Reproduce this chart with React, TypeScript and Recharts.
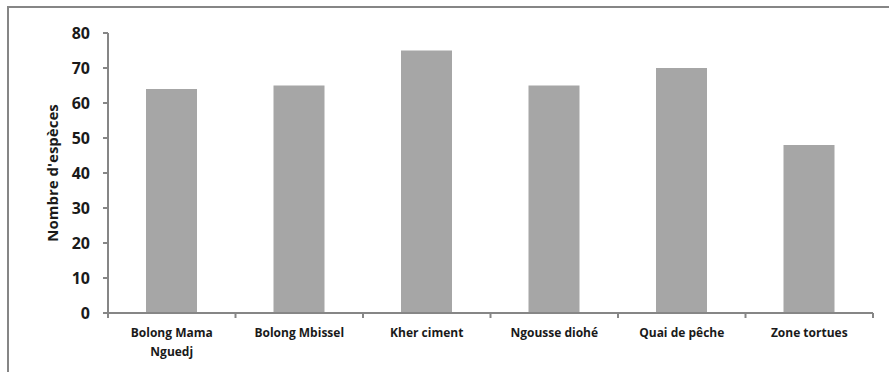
import React from "react";
import { BarChart, Bar, XAxis, YAxis } from "recharts";

const sites = [
  "Bolong Mama Nguedj",
  "Bolong Mbissel",
  "Kher ciment",
  "Ngousse diohé",
  "Quai de pêche",
  "Zone tortues",
];
const especes = [64, 65, 75, 65, 70, 48];
const yTicks = [0, 10, 20, 30, 40, 50, 60, 70, 80];

const data = sites.map((site, i) => ({ site, especes: especes[i] }));

const FONT = "'Open Sans', 'Noto Sans', sans-serif";
const AXIS = "#868686";

// simple word wrap for the category labels
const wrap = (label: string, max = 14) => {
  const lines: string[] = [];
  let cur = "";
  label.split(" ").forEach((w) => {
    const next = cur ? cur + " " + w : w;
    if (next.length > max && cur) {
      lines.push(cur);
      cur = w;
    } else {
      cur = next;
    }
  });
  if (cur) lines.push(cur);
  return lines;
};

// category label plus the small marks between categories
const SiteTick = (props: any) => {
  const { x, y, payload, index, width, visibleTicksCount } = props;
  const band = width / visibleTicksCount;
  const lines = wrap(String(payload.value));
  const left = x - band / 2;
  const right = x + band / 2;
  return (
    <g>
      <line x1={left} x2={left} y1={y} y2={y + 5} stroke={AXIS} strokeWidth={2} />
      {index === visibleTicksCount - 1 && (
        <line x1={right} x2={right} y1={y} y2={y + 5} stroke={AXIS} strokeWidth={2} />
      )}
      <text
        x={x}
        y={y + 24}
        textAnchor="middle"
        fontFamily={FONT}
        fontSize={12}
        fontWeight={700}
        fill="#1a1a1a"
      >
        {lines.map((l, i) => (
          <tspan key={i} x={x} dy={i === 0 ? 0 : 19}>
            {l}
          </tspan>
        ))}
      </text>
    </g>
  );
};

const YTitle = (props: any) => {
  const { viewBox } = props;
  const cx = viewBox.x + 43;
  const cy = viewBox.y + viewBox.height / 2;
  return (
    <text
      x={cx}
      y={cy}
      transform={`rotate(-90 ${cx} ${cy})`}
      textAnchor="middle"
      dominantBaseline="central"
      fontFamily={FONT}
      fontSize={15}
      fontWeight={700}
      fill="#1a1a1a"
    >
      Nombre d'espèces
    </text>
  );
};

export default function App() {
  return (
    <div
      style={{
        position: "absolute",
        left: 7,
        top: 6,
        width: 880,
        height: 366,
        borderLeft: `2px solid ${AXIS}`,
        borderTop: `2px solid ${AXIS}`,
      }}
    >
      <BarChart
        width={880}
        height={364}
        data={data}
        margin={{ top: 25, right: 16, left: 0, bottom: 0 }}
        barSize={51}
      >
        <XAxis
          dataKey="site"
          height={59}
          stroke={AXIS}
          strokeWidth={2}
          tickLine={false}
          tickSize={0}
          tickMargin={0}
          interval={0}
          tick={<SiteTick />}
        />
        <YAxis
          width={99}
          domain={[0, 80]}
          ticks={yTicks}
          interval={0}
          tickSize={5}
          tickMargin={13}
          stroke={AXIS}
          strokeWidth={2}
          tick={{ fontFamily: FONT, fontSize: 16, fontWeight: 700, fill: "#1a1a1a" }}
          label={{ content: <YTitle /> }}
        />
        <Bar dataKey="especes" fill="#a6a6a6" isAnimationActive={false} />
      </BarChart>
    </div>
  );
}
